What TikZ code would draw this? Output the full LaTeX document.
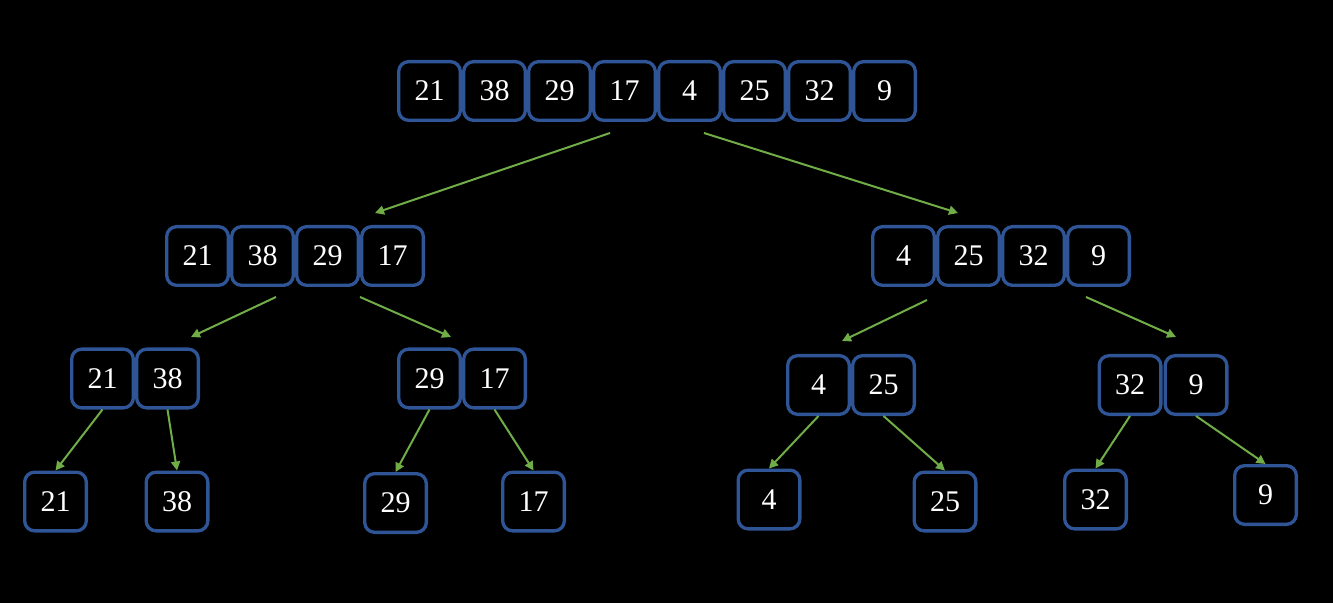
\documentclass[tikz,border=0pt]{standalone}
\usepackage{fontspec}
\setmainfont{Liberation Serif}
\usetikzlibrary{arrows.meta}
\definecolor{cellblue}{HTML}{2F5597}
\definecolor{arrowgreen}{HTML}{70AD47}
\begin{document}
\begin{tikzpicture}[x=1pt,y=1pt,
  cell/.style={draw=cellblue, line width=3.3pt, rounded corners=10pt,
    minimum width=61.7pt, minimum height=58.7pt, inner sep=0pt,
    text=white, font=\fontsize{30}{32}\selectfont},
  split/.style={draw=arrowgreen, line width=2pt,
    -{Triangle[length=9pt,width=9pt]}}]
  \fill[black] (0,0) rectangle (1333,603);
  \useasboundingbox (0,0) rectangle (1333,603);

  % full array
  \foreach \v [count=\i] in {21,38,29,17,4,25,32,9}
    \node[cell] (t\i) at ({429.5+65*(\i-1)},512) {\v};

  % halves
  \foreach \v [count=\i] in {21,38,29,17}
    \node[cell] (L\i) at ({197.5+65*(\i-1)},347) {\v};
  \foreach \v [count=\i] in {4,25,32,9}
    \node[cell] (R\i) at ({903.5+65*(\i-1)},347) {\v};

  % quarters
  \node[cell] (a1) at (102.5,224.5) {21};
  \node[cell] (a2) at (167.5,224.5) {38};
  \node[cell] (b1) at (429.5,224.5) {29};
  \node[cell] (b2) at (494.5,224.5) {17};
  \node[cell] (c1) at (818.5,218) {4};
  \node[cell] (c2) at (883.5,218) {25};
  \node[cell] (d1) at (1130,218) {32};
  \node[cell] (d2) at (1196,218) {9};

  % single elements
  \node[cell] (n21) at (55.5,101.5) {21};
  \node[cell] (n38) at (177,101.5) {38};
  \node[cell] (n29) at (395.5,100) {29};
  \node[cell] (n17) at (533.5,101.5) {17};
  \node[cell] (n4)  at (769,103.5) {4};
  \node[cell] (n25) at (945,101.5) {25};
  \node[cell] (n32) at (1095.5,103.5) {32};
  \node[cell] (n9)  at (1265.5,108) {9};

  % first split
  \draw[split] ([shift={(-14.5,-42)}]t4.center) -- ([shift={(-17.5,43)}]L4.center);
  \draw[split] ([shift={(14.5,-42)}]t5.center) -- ([shift={(-10.5,43)}]R2.center);

  % second split
  \draw[split] ([shift={(13.5,-41)}]L2.center) -- ([shift={(23.5,41.5)}]a2.center);
  \draw[split] ([shift={(-32.5,-41)}]L4.center) -- ([shift={(21.5,41.5)}]b1.center);
  \draw[split] ([shift={(23.5,-44)}]R1.center) -- ([shift={(23.5,44)}]c1.center);
  \draw[split] ([shift={(-12.5,-41)}]R4.center) -- ([shift={(-20,48)}]d2.center);

  % third split
  \draw[split] (a1.south) -- (n21.north);
  \draw[split] (a2.south) -- (n38.north);
  \draw[split] (b1.south) -- (n29.north);
  \draw[split] (b2.south) -- (n17.north);
  \draw[split] (c1.south) -- (n4.north);
  \draw[split] (c2.south) -- (n25.north);
  \draw[split] (d1.south) -- (n32.north);
  \draw[split] (d2.south) -- (n9.north);
\end{tikzpicture}
\end{document}
